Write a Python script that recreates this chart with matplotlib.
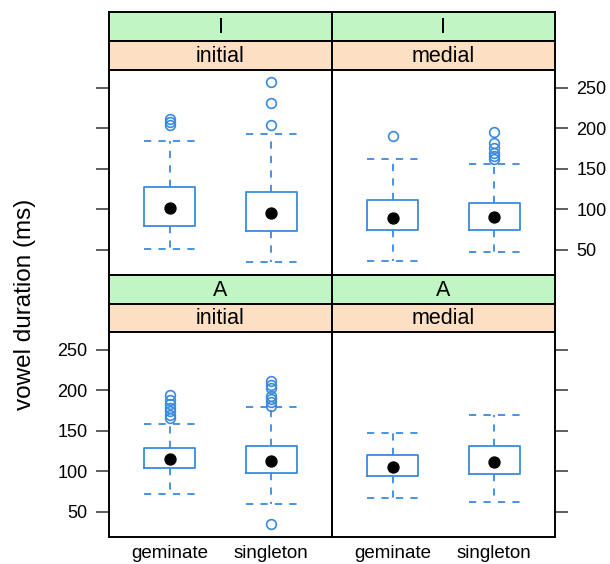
import matplotlib.pyplot as plt

plt.rcParams['font.family'] = ['Liberation Sans', 'DejaVu Sans']

# Box statistics, one entry per group (geminate, singleton)
groups = ["geminate", "singleton"]
vowels = ["I", "I", "A", "A"]
positions_lbl = ["initial", "medial", "initial", "medial"]

med = [[102, 96], [89, 91], [115, 113], [106, 112]]
q1 = [[80, 73], [74, 74], [104, 98], [94, 97]]
q3 = [[127, 122], [111, 108], [129, 131], [120, 131]]
whislo = [[51, 35], [36, 48], [72, 60], [67, 62]]
whishi = [[184, 193], [162, 156], [159, 179], [147, 169]]
fliers = [
    [[204, 208, 212], [204, 231, 257]],
    [[190], [162, 166, 170, 176, 182, 195]],
    [[166, 170, 174, 178, 183, 188, 194], [35, 181, 185, 189, 193, 203, 207, 211]],
    [[], []],
]

yticks = [50, 100, 150, 200, 250]

W, H = 610, 564
fig = plt.figure(figsize=(W / 100, H / 100), dpi=100)

box_col = "#3a8ae0"
green = "#bff6c3"
orange = "#fde0c4"

# layout in pixels: (left, right) columns and (strip top, strip mid, panel top, panel bottom) rows
cols = [(109, 332), (332, 555)]
rows = [(12, 41, 70, 275), (275, 303.5, 332, 537)]


def fax(x0, x1, y0, y1):
    return fig.add_axes([x0 / W, 1 - y1 / H, (x1 - x0) / W, (y1 - y0) / H])


for i in range(4):
    r, c = divmod(i, 2)
    x0, x1 = cols[c]
    s0, s1, p0, p1 = rows[r]

    # strips
    for (a, b), txt, col in [((s0, s1), vowels[i], green), ((s1, p0), positions_lbl[i], orange)]:
        sa = fax(x0, x1, a, b)
        sa.set_facecolor(col)
        sa.set_xticks([])
        sa.set_yticks([])
        for sp in sa.spines.values():
            sp.set_linewidth(1.4)
        sa.text(0.5, 0.47, txt, ha="center", va="center", fontsize=15.5,
                transform=sa.transAxes)

    ax = fax(x0, x1, p0, p1)
    stats = []
    for g in range(2):
        stats.append(dict(med=med[i][g], q1=q1[i][g], q3=q3[i][g],
                          whislo=whislo[i][g], whishi=whishi[i][g],
                          fliers=fliers[i][g]))
    ax.bxp(stats, positions=[1, 2], widths=0.5, capwidths=0.5,
           boxprops=dict(color=box_col, linewidth=1.3),
           whiskerprops=dict(color=box_col, linewidth=1.3, linestyle=(0, (4, 4))),
           capprops=dict(color=box_col, linewidth=1.3, linestyle=(0, (4, 4))),
           medianprops=dict(visible=False),
           flierprops=dict(marker="o", markerfacecolor="none",
                           markeredgecolor=box_col, markersize=7,
                           markeredgewidth=1.2))
    ax.scatter([1, 2], med[i], s=62, color="black", zorder=5)

    ax.set_xlim(0.4, 2.6)
    ax.set_ylim(19, 272)
    ax.set_yticks(yticks)
    for sp in ax.spines.values():
        sp.set_linewidth(1.4)

    if r == 1:
        ax.set_xticks([1, 2])
        ax.set_xticklabels(groups, fontsize=13.5)
        ax.tick_params(axis="x", length=0, pad=6)
    else:
        ax.set_xticks([])

    side_right = (c == 1)
    show_lbl = (r == 0 and c == 1) or (r == 1 and c == 0)
    ax.tick_params(axis="y", left=not side_right, right=side_right,
                   labelleft=show_lbl and not side_right,
                   labelright=show_lbl and side_right,
                   length=9.5, width=1.1, color="#333333",
                   labelsize=13, pad=6)

fig.text(25 / W, 1 - 304 / H, "vowel duration (ms)", rotation=90,
         ha="center", va="center", fontsize=17.5)

fig.savefig("out.png", dpi=100)
